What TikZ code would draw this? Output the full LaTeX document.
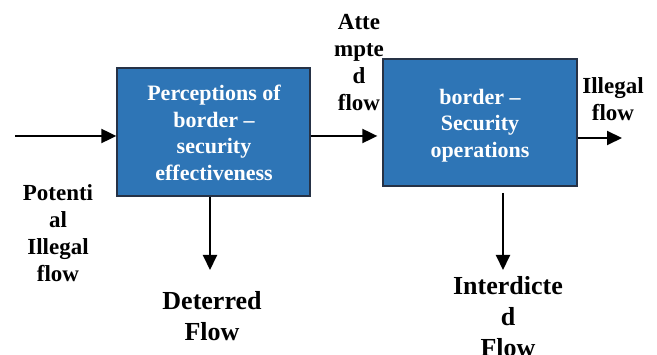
\documentclass[tikz,border=0pt]{standalone}
\usepackage{fontspec}
\setmainfont{Liberation Serif}
\usetikzlibrary{arrows.meta}
\definecolor{boxblue}{RGB}{46,117,182}
\definecolor{boxedge}{RGB}{38,50,70}
\begin{document}
\begin{tikzpicture}[x=1pt,y=-1pt,
  blockbox/.style={draw=boxedge,line width=1.3pt,fill=boxblue,text=white,
    font=\bfseries\fontsize{22}{26.5}\selectfont,align=center,inner sep=0pt},
  lbl/.style={font=\bfseries\fontsize{23}{27}\selectfont,align=center,inner sep=0pt},
  biglbl/.style={font=\bfseries\fontsize{26}{31}\selectfont,align=center,inner sep=0pt},
  flowarrow/.style={line width=2pt,-{Triangle[length=15pt,width=14pt]}}]
\useasboundingbox (0,0) rectangle (657,355);
\node[blockbox,minimum width=193pt,minimum height=128pt] (b1) at (213.5,132) {};
\node[blockbox,minimum width=194pt,minimum height=127pt] (b2) at (480,122.5) {};
\node[blockbox,draw=none,fill=none] (t1) at (214,133) {Perceptions of\\border –\\security\\effectiveness};
\node[blockbox,draw=none,fill=none] (t2) at (480,125.5) {border –\\Security\\operations};
\node[lbl] (pot) at (58,233) {Potenti\\al\\Illegal\\flow};
\node[biglbl] (det) at (212,316) {Deterred\\Flow};
\node[lbl] (att) at (359,63) {Atte\\mpte\\d\\flow};
\node[lbl] (ill) at (613,99) {Illegal\\flow};
\node[biglbl] (int) at (508,316.5) {Interdicte\\d\\Flow};
\coordinate (inS) at (15,136);
\coordinate (outE) at (622,138);
\coordinate (detE) at (210,270);
\coordinate (intS) at (503,193);
\coordinate (intE) at (503,270);
\draw[flowarrow] (inS) -- (inS -| b1.west);
\draw[flowarrow] (b1.east |- inS) -- ([xshift=-5pt]b2.west |- inS);
\draw[flowarrow] (b2.east |- outE) -- (outE);
\draw[flowarrow] (detE |- b1.south) -- (detE);
\draw[flowarrow] (intS) -- (intE);
\end{tikzpicture}
\end{document}
